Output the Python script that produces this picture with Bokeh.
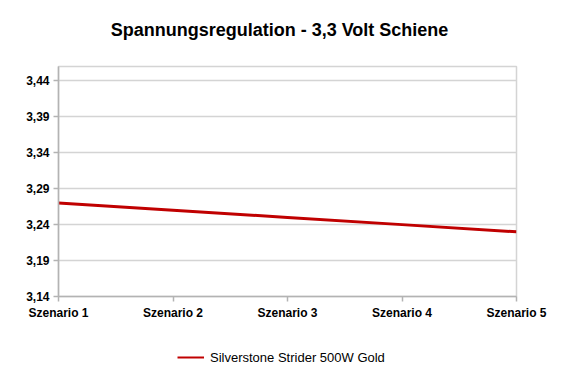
from bokeh.plotting import figure
from bokeh.layouts import column
from bokeh.models import Range1d, FixedTicker, Legend, LegendItem, Label
from bokeh.embed import file_html
from bokeh.resources import INLINE

categories = ["Szenario 1", "Szenario 2", "Szenario 3", "Szenario 4", "Szenario 5"]
series_name = "Silverstone Strider 500W Gold"
values = [3.27, 3.26, 3.25, 3.24, 3.23]
y_ticks = [3.14, 3.19, 3.24, 3.29, 3.34, 3.39, 3.44]
title_text = "Spannungsregulation - 3,3 Volt Schiene"

xs = list(range(len(categories)))
line_color = "#c00000"

# title strip above the chart
tf = figure(width=570, height=45, output_backend="svg", toolbar_location=None,
            x_range=Range1d(0, len(categories) - 1), y_range=Range1d(0, 1),
            x_axis_type=None, y_axis_type=None,
            min_border_left=0, min_border_right=0, min_border_top=0, min_border_bottom=0)
tf.outline_line_color = None
tf.xgrid.grid_line_color = None
tf.ygrid.grid_line_color = None
tf.add_layout(Label(x=(len(categories) - 1) / 2, y=16, y_units="screen", x_offset=-8,
                    text=title_text, text_align="center", text_baseline="middle",
                    text_font="Liberation Sans", text_font_style="bold",
                    text_font_size="18px", text_color="black"))

p = figure(width=570, height=285, output_backend="svg", toolbar_location=None,
           x_range=Range1d(0, len(categories) - 1), y_range=Range1d(3.14, 3.46),
           min_border_left=58, min_border_right=54, min_border_top=21, min_border_bottom=34)
p.background_fill_color = "white"
p.border_fill_color = "white"
p.outline_line_color = "#d4d4d4"
p.outline_line_width = 1.5

p.line(xs, values, line_color=line_color, line_width=3)

p.xaxis.ticker = FixedTicker(ticks=xs)
p.xaxis.major_label_overrides = {i: c for i, c in enumerate(categories)}
p.yaxis.ticker = FixedTicker(ticks=y_ticks)
p.yaxis.major_label_overrides = {t: f"{t:.2f}".replace(".", ",") for t in y_ticks}

for ax in (p.xaxis[0], p.yaxis[0]):
    ax.axis_line_color = "#b3b3b3"
    ax.axis_line_width = 1.5
    ax.major_tick_line_color = "#b3b3b3"
    ax.major_tick_line_width = 1.5
    ax.major_tick_out = 5
    ax.major_tick_in = 0
    ax.minor_tick_line_color = None
    ax.major_label_text_font = "Liberation Sans"
    ax.major_label_text_font_style = "bold"
    ax.major_label_text_font_size = "12px"
    ax.major_label_text_color = "black"
    ax.major_label_standoff = 4

p.xgrid.grid_line_color = None
p.ygrid.grid_line_color = "#d4d4d4"
p.ygrid.grid_line_width = 1.5

# legend strip below the chart
lf = figure(width=570, height=45, output_backend="svg", toolbar_location=None,
            x_range=Range1d(0, 1), y_range=Range1d(0, 1),
            x_axis_type=None, y_axis_type=None,
            min_border_left=0, min_border_right=0, min_border_top=0, min_border_bottom=0)
lf.outline_line_color = None
lf.xgrid.grid_line_color = None
lf.ygrid.grid_line_color = None
lr = lf.line(xs, values, line_color=line_color, line_width=2)

legend = Legend(items=[LegendItem(label=series_name, renderers=[lr])],
                location=(119, 8), orientation="horizontal",
                label_text_font="Liberation Sans", label_text_font_size="13px",
                label_text_color="black", border_line_color=None,
                background_fill_alpha=0, glyph_width=27, label_standoff=6,
                padding=4, margin=0, spacing=0)
lf.add_layout(legend)

layout = column(tf, p, lf, spacing=0)
open("out.html", "w").write(file_html(layout, INLINE))
